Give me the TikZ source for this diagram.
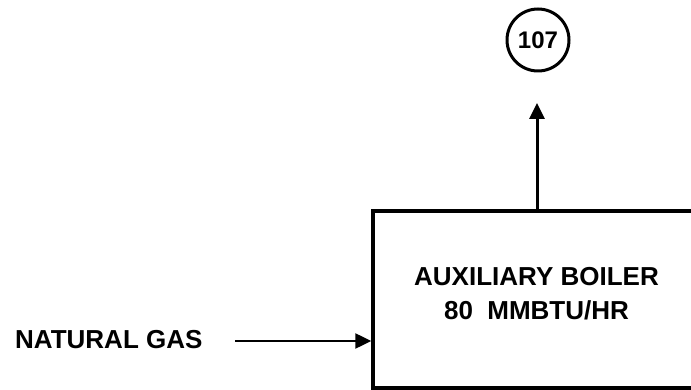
\documentclass[tikz,border=0pt]{standalone}
\usepackage{fontspec}
\setmainfont{Liberation Sans}
\usetikzlibrary{arrows.meta}
\begin{document}
\begin{tikzpicture}[x=1pt,y=-1pt,
  lbl/.style={font=\fontsize{26}{34}\selectfont\bfseries, inner sep=0pt, align=center},
  flow/.style={-{Triangle[length=16pt,width=15pt]}},
  boxstyle/.style={draw, line width=3.5pt, minimum width=327pt, minimum height=177pt, inner sep=0pt},
  circstyle/.style={draw, circle, line width=3pt, minimum size=62pt, inner sep=0pt, font=\fontsize{24}{26}\selectfont\bfseries}]
\clip (0,0) rectangle (691,390);
\node[boxstyle] (boiler) at (536.5,299.5) {};
\node[lbl] (boilertext) at (536.5,294) {AUXILIARY BOILER\\80\ \ MMBTU/HR};
\node[circstyle] (s107) at (538,40) {107};
\coordinate (tip) at (537,103);
\draw[flow, line width=3pt] (boiler.north -| tip) -- (tip);
\node[lbl, anchor=west] (gas) at (15,340) {NATURAL GAS};
\coordinate (gasstart) at (235,341);
\draw[flow, line width=2.5pt] (gasstart) -- (gasstart -| boiler.west);
\end{tikzpicture}
\end{document}
